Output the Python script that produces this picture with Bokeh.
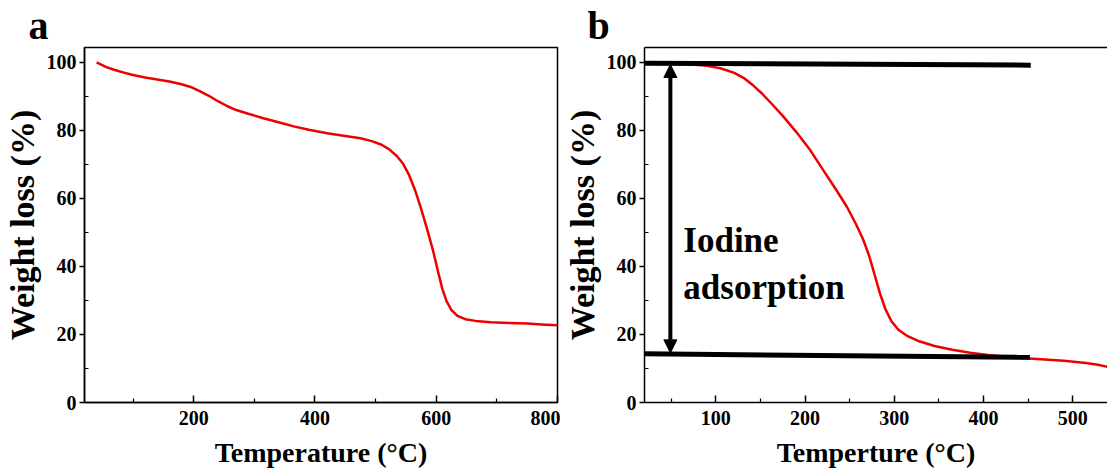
from bokeh.plotting import figure
from bokeh.layouts import row
from bokeh.models import FixedTicker, LinearAxis, Arrow, NormalHead, Range1d
from bokeh.core.properties import value
from bokeh.embed import file_html
from bokeh.resources import INLINE

# ---- data ----
a_temp = [40, 55, 70, 85, 100, 120, 140, 160, 180, 195, 210, 225, 240, 255, 270, 290, 315, 340,
          365, 390, 420, 450, 475, 495, 510, 522, 535, 545, 555, 565, 575, 585, 595, 603, 610,
          617, 625, 635, 648, 665, 690, 720, 750, 780, 800]
a_weight = [100, 98.7, 97.8, 97.0, 96.3, 95.6, 95.0, 94.4, 93.6, 92.8, 91.6, 90.2, 88.6, 87.2,
            86.0, 84.9, 83.6, 82.4, 81.2, 80.2, 79.2, 78.4, 77.7, 76.8, 75.8, 74.5, 72.5, 70.3,
            67.0, 62.5, 57.0, 51.0, 44.5, 38.5, 33.5, 29.8, 27.2, 25.5, 24.5, 24.0, 23.6, 23.4,
            23.2, 22.9, 22.7]

b_temp = [30, 50, 70, 90, 105, 120, 132, 142, 152, 162, 175, 190, 205, 220, 235, 247, 257, 265,
          272, 278, 284, 290, 297, 305, 315, 328, 345, 365, 385, 405, 430, 460, 490, 515, 530, 540]
b_weight = [100, 99.8, 99.5, 99.0, 98.3, 97.0, 95.3, 93.2, 90.8, 88.0, 84.3, 79.6, 74.5, 68.5,
            62.5, 57.5, 52.5, 48.0, 43.0, 37.5, 32.0, 27.5, 23.8, 21.3, 19.5, 18.0, 16.6, 15.5,
            14.6, 14.0, 13.3, 12.8, 12.3, 11.6, 11.0, 10.4]

top_line_x = [20, 453]
top_line_y = [99.8, 99.2]
bottom_line_x = [20, 452]
bottom_line_y = [14.3, 13.3]
arrow_x = 49
arrow_y = [14.6, 99.4]

a_xticks = [200, 400, 600, 800]
a_xminor = [100, 300, 500, 700]
b_xticks = [100, 200, 300, 400, 500]
b_xminor = [50, 150, 250, 350, 450]
yticks = [0, 20, 40, 60, 80, 100]
yminor = [10, 30, 50, 70, 90]

annot_text = ["Iodine", "adsorption"]

FONT = "Liberation Serif"
RED = "#ee0000"
Y_END = 104.4


def style_axes(p, xticks, xminor, xlabel):
    for ax in p.xaxis:
        ax.ticker = FixedTicker(ticks=xticks, minor_ticks=xminor)
        ax.axis_label = xlabel
    for ax in p.yaxis:
        ax.ticker = FixedTicker(ticks=yticks, minor_ticks=yminor)
        ax.axis_label = "Weight loss (%)"
    for ax in list(p.xaxis) + list(p.yaxis):
        ax.axis_line_color = "black"
        ax.axis_line_width = 1.5
        ax.major_tick_line_color = "black"
        ax.minor_tick_line_color = "black"
        ax.major_tick_line_width = 1.5
        ax.minor_tick_line_width = 1.2
        ax.major_label_text_font = FONT
        ax.major_label_text_font_style = "bold"
        ax.major_label_text_font_size = "20px"
        ax.major_label_text_color = "black"
        ax.axis_label_text_font = FONT
        ax.axis_label_text_font_style = "bold"
        ax.axis_label_text_color = "black"
    for ax in p.xaxis:
        ax.major_tick_in = 7
        ax.major_tick_out = 0
        ax.minor_tick_in = 4
        ax.minor_tick_out = 0
        ax.major_label_standoff = 8
        ax.axis_label_standoff = 9
        ax.axis_label_text_font_size = "28px"
    for ax in p.yaxis:
        ax.major_tick_in = 0
        ax.major_tick_out = 5
        ax.minor_tick_in = 4
        ax.minor_tick_out = 0
        ax.major_label_standoff = 3
        ax.axis_label_standoff = 3
        ax.axis_label_text_font_size = "34px"
    p.xgrid.visible = False
    p.ygrid.visible = False
    p.background_fill_color = "white"
    p.border_fill_color = "white"


def style_title(p, letter, offset):
    p.title.text = letter
    p.title.text_font = FONT
    p.title.text_font_style = "bold"
    p.title.text_font_size = "40px"
    p.title.text_color = "black"
    p.title.align = "left"
    p.title.offset = offset
    p.title.standoff = 0
    p.title.text_line_height = 0.9


# ---- panel a ----
pa = figure(width=560, height=470, output_backend="svg", toolbar_location=None,
            x_range=Range1d(20, 800), y_range=Range1d(0, Y_END),
            min_border_left=81, min_border_right=3, min_border_top=44, min_border_bottom=66)
pa.line(a_temp, a_weight, line_color=RED, line_width=2.5)
style_axes(pa, a_xticks, a_xminor, "Temperature (°C)")
pa.outline_line_color = "black"
pa.outline_line_width = 1.5
style_title(pa, "a", -56)

# ---- panel b ----
pb = figure(width=547, height=470, output_backend="svg", toolbar_location=None,
            x_range=Range1d(20, 539), y_range=Range1d(0, Y_END),
            min_border_left=81, min_border_right=0, min_border_top=44, min_border_bottom=66)
pb.line(b_temp, b_weight, line_color=RED, line_width=2.5)
pb.line(top_line_x, top_line_y, line_color="black", line_width=5)
pb.line(bottom_line_x, bottom_line_y, line_color="black", line_width=5)
pb.add_layout(Arrow(x_start=arrow_x, y_start=arrow_y[0], x_end=arrow_x, y_end=arrow_y[1],
                    line_color="black", line_width=4,
                    start=NormalHead(size=13, fill_color="black", line_color="black"),
                    end=NormalHead(size=13, fill_color="black", line_color="black")))
pb.text(x=[63.5, 63.5], y=[47.5, 33.9], text=annot_text, text_font=value(FONT),
        text_font_style="bold", text_font_size="35px", text_color="black",
        text_baseline="alphabetic", text_align="left")
style_axes(pb, b_xticks, b_xminor, "Temperture (°C)")
pb.outline_line_color = None
top_ax = LinearAxis(ticker=FixedTicker(ticks=[]), axis_line_color="black", axis_line_width=1.5,
                    major_tick_line_color=None, minor_tick_line_color=None,
                    major_label_text_font_size="0px")
pb.add_layout(top_ax, "above")
style_title(pb, "b", -57)

layout = row(pa, pb)
open("out.html", "w").write(file_html(layout, INLINE))
